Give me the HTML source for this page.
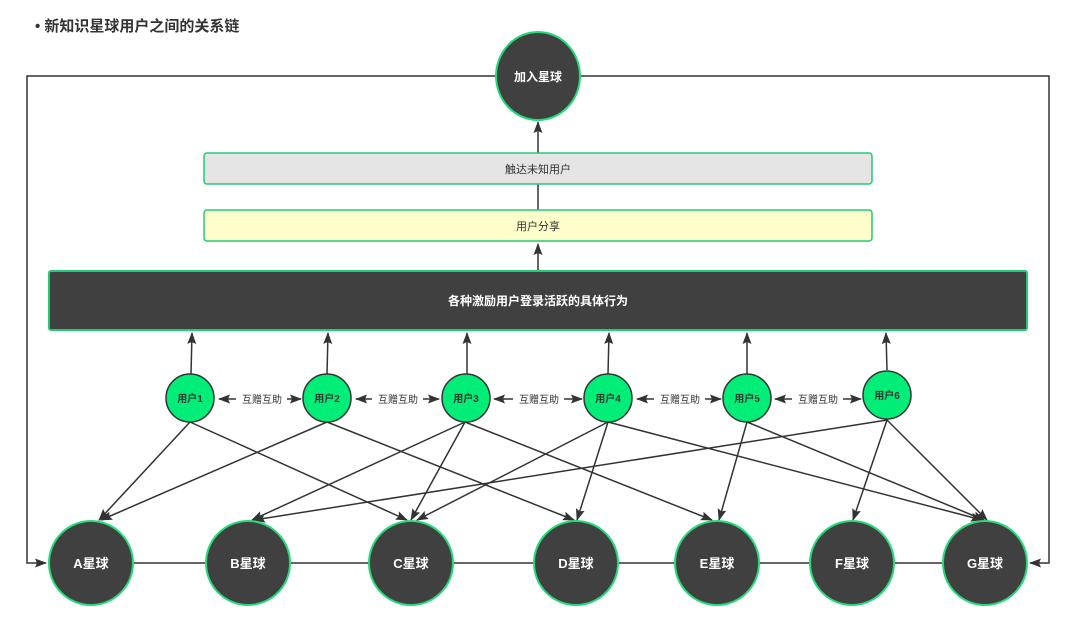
<!DOCTYPE html>
<html><head><meta charset="utf-8"><style>
body{margin:0;background:#fff;}
svg{display:block;font-family:"Liberation Sans","Noto Sans CJK SC",sans-serif;}
</style></head><body>
<svg width="1080" height="641" viewBox="0 0 1080 641">
<defs>
<marker id="a" markerWidth="12" markerHeight="12" refX="11" refY="6" orient="auto" markerUnits="userSpaceOnUse"><path d="M0,1.5 L12,6 L0,10.5 L2,6z" fill="#333"/></marker>
</defs>
<text x="35" y="31" font-size="15" font-weight="bold" fill="#333">• 新知识星球用户之间的关系链</text>
<g stroke="#333" stroke-width="1.5" fill="none">
<path d="M496,76 H27 V563 H46" marker-end="url(#a)"/>
<path d="M580,76 H1049 V563 H1030" marker-end="url(#a)"/>
<line x1="538" y1="153" x2="538" y2="122" marker-end="url(#a)"/>
<line x1="538" y1="210" x2="538" y2="184"/>
<line x1="538" y1="271" x2="538" y2="244" marker-end="url(#a)"/>
<line x1="191" y1="374" x2="192" y2="333" marker-end="url(#a)"/>
<line x1="327" y1="374" x2="328" y2="333" marker-end="url(#a)"/>
<line x1="467" y1="374" x2="467" y2="333" marker-end="url(#a)"/>
<line x1="608" y1="374" x2="609" y2="333" marker-end="url(#a)"/>
<line x1="747" y1="374" x2="747" y2="333" marker-end="url(#a)"/>
<line x1="887" y1="370" x2="886" y2="333" marker-end="url(#a)"/>
<line x1="49" y1="563" x2="1027" y2="563"/>
<line x1="190" y1="422" x2="99" y2="520" marker-end="url(#a)"/>
<line x1="190" y1="422" x2="407" y2="520" marker-end="url(#a)"/>
<line x1="327" y1="422" x2="101" y2="520" marker-end="url(#a)"/>
<line x1="327" y1="422" x2="574" y2="520" marker-end="url(#a)"/>
<line x1="465" y1="422" x2="252" y2="520" marker-end="url(#a)"/>
<line x1="465" y1="422" x2="411" y2="520" marker-end="url(#a)"/>
<line x1="465" y1="422" x2="712" y2="520" marker-end="url(#a)"/>
<line x1="608" y1="422" x2="417" y2="520" marker-end="url(#a)"/>
<line x1="608" y1="422" x2="577" y2="520" marker-end="url(#a)"/>
<line x1="608" y1="422" x2="982" y2="520" marker-end="url(#a)"/>
<line x1="747" y1="422" x2="719" y2="520" marker-end="url(#a)"/>
<line x1="747" y1="422" x2="984" y2="520" marker-end="url(#a)"/>
<line x1="887" y1="420" x2="254" y2="520" marker-end="url(#a)"/>
<line x1="887" y1="420" x2="853" y2="520" marker-end="url(#a)"/>
<line x1="887" y1="420" x2="987" y2="520" marker-end="url(#a)"/>
</g>
<g stroke="#333" stroke-width="1.5">
<line x1="236" y1="399" x2="219" y2="399" marker-end="url(#a)"/><line x1="287" y1="399" x2="301" y2="399" marker-end="url(#a)"/>
<line x1="372" y1="399" x2="356" y2="399" marker-end="url(#a)"/><line x1="423" y1="399" x2="439" y2="399" marker-end="url(#a)"/>
<line x1="513" y1="399" x2="494" y2="399" marker-end="url(#a)"/><line x1="564" y1="399" x2="582" y2="399" marker-end="url(#a)"/>
<line x1="654" y1="399" x2="637" y2="399" marker-end="url(#a)"/><line x1="705" y1="399" x2="721" y2="399" marker-end="url(#a)"/>
<line x1="792" y1="399" x2="775" y2="399" marker-end="url(#a)"/><line x1="843" y1="399" x2="861" y2="399" marker-end="url(#a)"/>
</g>
<g font-size="10" fill="#333" text-anchor="middle">
<text x="262" y="403">互赠互助</text><text x="398" y="403">互赠互助</text><text x="539" y="403">互赠互助</text><text x="680" y="403">互赠互助</text><text x="818" y="403">互赠互助</text>
</g>
<ellipse cx="538" cy="76" rx="42" ry="44" fill="#404040" stroke="#22dd77" stroke-width="2"/>
<text x="538" y="81" font-size="12" font-weight="bold" fill="#fff" text-anchor="middle">加入星球</text>
<rect x="204" y="153" width="668" height="31" rx="3" fill="#e5e5e5" stroke="#22cc77" stroke-width="1.5"/>
<text x="538" y="173" font-size="11" fill="#333" text-anchor="middle">触达未知用户</text>
<rect x="204" y="210" width="668" height="31" rx="3" fill="#ffffcc" stroke="#22cc77" stroke-width="1.5"/>
<text x="538" y="230" font-size="11" fill="#333" text-anchor="middle">用户分享</text>
<rect x="49" y="271" width="978" height="59" rx="2" fill="#404040" stroke="#22cc77" stroke-width="2"/>
<text x="538" y="305" font-size="12" font-weight="bold" fill="#fff" text-anchor="middle">各种激励用户登录活跃的具体行为</text>
<g fill="#00ee77" stroke="#333" stroke-width="1.5">
<circle cx="190" cy="398" r="24"/><circle cx="327" cy="398" r="24"/><circle cx="466" cy="398" r="24"/><circle cx="608" cy="398" r="24"/><circle cx="747" cy="398" r="24"/><circle cx="887" cy="395" r="24"/>
</g>
<g font-size="10" font-weight="bold" fill="#333" text-anchor="middle">
<text x="190" y="402">用户1</text><text x="327" y="402">用户2</text><text x="466" y="402">用户3</text><text x="608" y="402">用户4</text><text x="747" y="402">用户5</text><text x="887" y="399">用户6</text>
</g>
<g fill="#404040" stroke="#22dd77" stroke-width="2">
<circle cx="91" cy="563" r="42"/><circle cx="248" cy="563" r="42"/><circle cx="411" cy="563" r="42"/><circle cx="576" cy="563" r="42"/><circle cx="717" cy="563" r="42"/><circle cx="852" cy="563" r="42"/><circle cx="985" cy="563" r="42"/>
</g>
<g font-size="13" font-weight="bold" fill="#fff" text-anchor="middle">
<text x="91" y="568">A星球</text><text x="248" y="568">B星球</text><text x="411" y="568">C星球</text><text x="576" y="568">D星球</text><text x="717" y="568">E星球</text><text x="852" y="568">F星球</text><text x="985" y="568">G星球</text>
</g>
</svg>
</body></html>
